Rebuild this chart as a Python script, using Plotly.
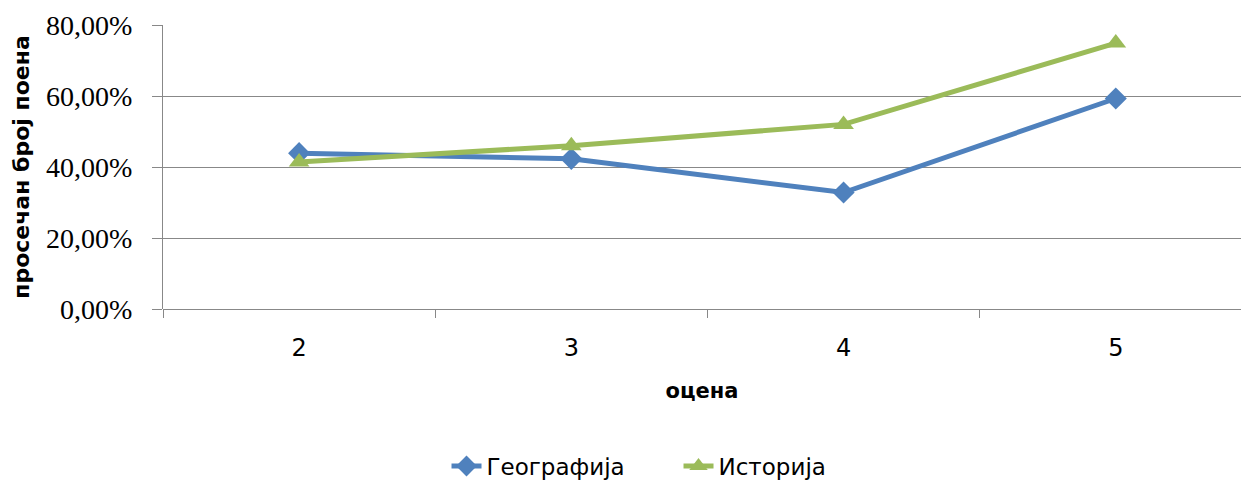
import plotly.graph_objects as go

categories = ["2", "3", "4", "5"]
geografija = [0.439, 0.423, 0.328, 0.593]
istorija = [0.414, 0.460, 0.520, 0.749]
series_names = ["Географија", "Историја"]
y_tickvals = [0, 0.2, 0.4, 0.6, 0.8]
y_ticktext = ["0,00%", "20,00%", "40,00%", "60,00%", "80,00%"]

fig = go.Figure()
fig.add_trace(go.Scatter(
    x=categories, y=geografija, name=series_names[0], mode="lines+markers",
    line=dict(color="#4F81BD", width=5),
    marker=dict(symbol="diamond", size=17, color="#4F81BD"),
    cliponaxis=False,
))
fig.add_trace(go.Scatter(
    x=categories, y=istorija, name=series_names[1], mode="lines+markers",
    line=dict(color="#9BBB59", width=5),
    marker=dict(symbol="triangle-up", size=18, color="#9BBB59"),
    cliponaxis=False,
))

fig.update_layout(
    width=1241, height=483,
    margin=dict(l=163, r=0, t=25, b=174, autoexpand=False),
    paper_bgcolor="white", plot_bgcolor="white",
    showlegend=True,
    legend=dict(orientation="h", x=0.263, xanchor="left", y=-0.553, yanchor="middle",
                font=dict(family="DejaVu Sans", size=23, color="#000000"),
                entrywidth=187, entrywidthmode="pixels"),
    font=dict(family="DejaVu Sans", color="#000000"),
)
fig.update_xaxes(
    type="category", range=[-0.5, 3.46],
    tickson="boundaries", ticks="outside", ticklen=8, tickcolor="#888888", tickwidth=1,
    showline=False, showgrid=False, zeroline=False,
    tickfont=dict(family="DejaVu Sans", size=24, color="#000000"),
    ticklabelstandoff=22,
    title=dict(text="<b>оцена</b>", font=dict(family="DejaVu Sans", size=21, color="#000000"), standoff=22),
)
fig.update_yaxes(
    range=[0, 0.8], tickvals=y_tickvals, ticktext=y_ticktext,
    ticks="outside", ticklen=10, tickcolor="#888888", tickwidth=1,
    showline=True, linecolor="#888888", linewidth=1,
    showgrid=True, gridcolor="#888888", gridwidth=1,
    zeroline=True, zerolinecolor="#888888", zerolinewidth=1,
    tickfont=dict(family="Liberation Serif", size=28, color="#000000"),
    ticklabelstandoff=14,
    title=dict(text="<b>просечан број поена</b>", font=dict(family="DejaVu Sans", size=22, color="#000000"), standoff=10),
)

fig.write_html(
    "out.html",
    config={"displayModeBar": False},
    post_script="document.documentElement.style.margin='0';document.body.style.margin='0';document.body.style.overflow='hidden';",
)
